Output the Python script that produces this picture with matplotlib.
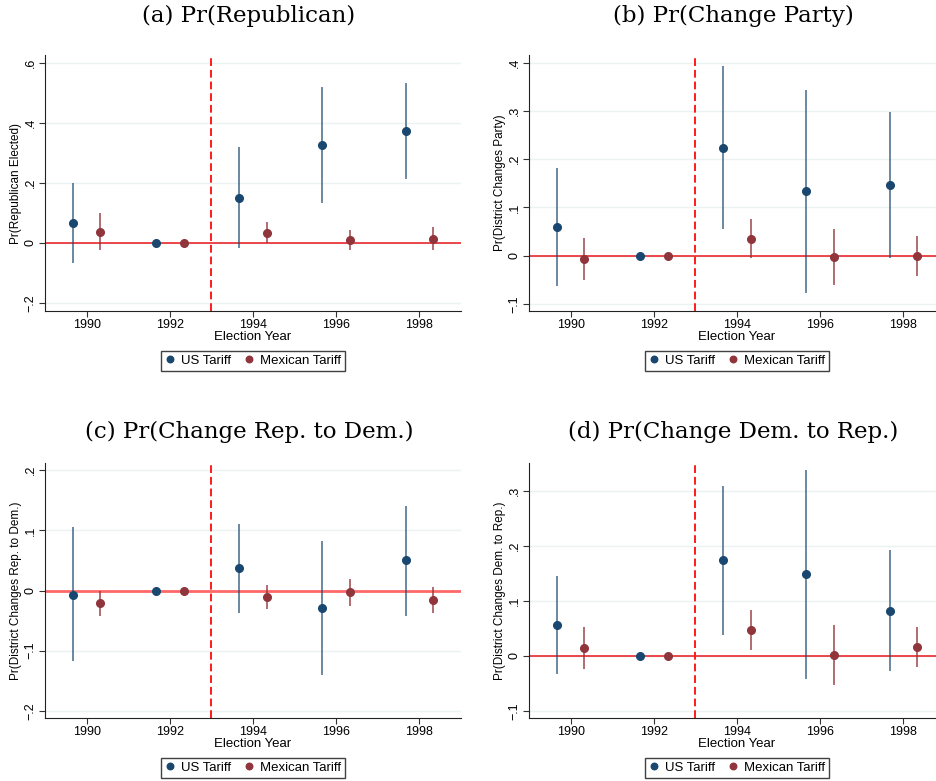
import matplotlib
matplotlib.use("Agg")
import matplotlib.pyplot as plt
import numpy as np
from matplotlib.ticker import FuncFormatter

plt.rcParams["font.family"] = ["Liberation Sans", "DejaVu Sans"]

years = np.array([1990, 1992, 1994, 1996, 1998])

# (a) Pr(Republican Elected)
a_us = [0.065, 0.0, 0.151, 0.325, 0.374]
a_us_lo = [-0.068, 0.0, -0.018, 0.132, 0.214]
a_us_hi = [0.198, 0.0, 0.318, 0.519, 0.533]
a_mx = [0.037, 0.0, 0.033, 0.010, 0.013]
a_mx_lo = [-0.025, 0.0, -0.001, -0.025, -0.025]
a_mx_hi = [0.100, 0.0, 0.068, 0.044, 0.053]

# (b) Pr(District Changes Party)
b_us = [0.059, 0.0, 0.224, 0.134, 0.146]
b_us_lo = [-0.063, 0.0, 0.056, -0.077, -0.006]
b_us_hi = [0.181, 0.0, 0.393, 0.343, 0.298]
b_mx = [-0.007, 0.0, 0.035, -0.003, -0.001]
b_mx_lo = [-0.050, 0.0, -0.005, -0.061, -0.043]
b_mx_hi = [0.036, 0.0, 0.075, 0.055, 0.040]

# (c) Pr(District Changes Rep. to Dem.)
c_us = [-0.007, 0.0, 0.037, -0.029, 0.050]
c_us_lo = [-0.118, 0.0, -0.038, -0.140, -0.042]
c_us_hi = [0.105, 0.0, 0.111, 0.083, 0.141]
c_mx = [-0.020, 0.0, -0.011, -0.003, -0.016]
c_mx_lo = [-0.042, 0.0, -0.030, -0.025, -0.038]
c_mx_hi = [0.000, 0.0, 0.009, 0.019, 0.006]

# (d) Pr(District Changes Dem. to Rep.)
d_us = [0.056, 0.0, 0.173, 0.148, 0.082]
d_us_lo = [-0.034, 0.0, 0.038, -0.042, -0.028]
d_us_hi = [0.145, 0.0, 0.309, 0.338, 0.192]
d_mx = [0.015, 0.0, 0.047, 0.002, 0.016]
d_mx_lo = [-0.024, 0.0, 0.011, -0.053, -0.021]
d_mx_hi = [0.053, 0.0, 0.083, 0.056, 0.053]

NAVY = "#1a476f"
MAROON = "#90353b"
W, H = 937, 781


def stata_fmt(v, pos):
    if abs(v) < 1e-9:
        return "0"
    s = f"{v:g}"
    return s.replace("0.", ".").replace("-", "\u2212")


def panel(rect, title, title_y, ylabel, ylim, yticks, us, us_lo, us_hi, mx, mx_lo, mx_hi,
          zero_kw):
    l, t, r, b = rect
    ax = plt.gcf().add_axes([l / W, 1 - b / H, (r - l) / W, (b - t) / H])

    for y in yticks:
        ax.axhline(y, color="#eaf2f3", lw=1.0, zorder=0)
    ax.axhline(0, zorder=1, **zero_kw)
    ax.axvline(1993, color="#ff1a1a", lw=1.4, ls=(0, (4, 2)), zorder=1)

    x_us = years - 0.33
    x_mx = years + 0.33
    ax.vlines(x_us, us_lo, us_hi, color=NAVY, lw=1.2, alpha=0.75, zorder=2)
    ax.vlines(x_mx, mx_lo, mx_hi, color=MAROON, lw=1.2, alpha=0.85, zorder=2)
    ax.plot(x_us, us, "o", color=NAVY, ms=5.5, zorder=3, label="US Tariff")
    ax.plot(x_mx, mx, "o", color=MAROON, ms=5.5, zorder=3, label="Mexican Tariff")

    ax.set_xlim(1989, 1999)
    ax.set_ylim(*ylim)
    ax.set_xticks(years)
    ax.set_yticks(yticks)
    ax.yaxis.set_major_formatter(FuncFormatter(stata_fmt))
    for lab in ax.get_yticklabels():
        lab.set_rotation(90)
        lab.set_va("center")
    ax.tick_params(labelsize=9, length=4, width=0.8, color="#333333", pad=2)
    ax.spines["top"].set_visible(False)
    ax.spines["right"].set_visible(False)
    ax.spines["left"].set_color("#222222")
    ax.spines["bottom"].set_color("#222222")
    ax.set_xlabel("Election Year", fontsize=9.5, labelpad=0)
    ax.set_ylabel(ylabel, fontsize=8.5, labelpad=2)

    leg = ax.legend(loc="center", bbox_to_anchor=(0.5, -0.195), ncol=2, fontsize=9.5,
                    frameon=True, fancybox=False, handlelength=0.8, handletextpad=0.4,
                    columnspacing=1.0, borderpad=0.3, borderaxespad=0.0, markerscale=0.85)
    leg.get_frame().set_edgecolor("#111111")
    leg.get_frame().set_linewidth(1.0)

    plt.gcf().text(((l + min(r, W + 8)) / 2 - 4) / W, 1 - title_y / H, title,
                   family=["DejaVu Serif"], fontsize=16.5,
                   ha="center", va="center")
    return ax


fig = plt.figure(figsize=(W / 100, H / 100), dpi=100)

thin_zero = dict(color="#e8161c", lw=1.1)
thick_zero = dict(color="#ff6868", lw=2.0)

panel((45, 55, 461, 311), "(a) Pr(Republican)", 16, "Pr(Republican Elected)",
      (-0.227, 0.626), [-0.2, 0, 0.2, 0.4, 0.6],
      a_us, a_us_lo, a_us_hi, a_mx, a_mx_lo, a_mx_hi, thin_zero)
panel((529, 55, 945, 311), "(b) Pr(Change Party)", 16, "Pr(District Changes Party)",
      (-0.115, 0.416), [-0.1, 0, 0.1, 0.2, 0.3, 0.4],
      b_us, b_us_lo, b_us_hi, b_mx, b_mx_lo, b_mx_hi, thin_zero)
panel((45, 463, 461, 718), "(c) Pr(Change Rep. to Dem.)", 432,
      "Pr(District Changes Rep. to Dem.)",
      (-0.212, 0.212), [-0.2, -0.1, 0, 0.1, 0.2],
      c_us, c_us_lo, c_us_hi, c_mx, c_mx_lo, c_mx_hi, thick_zero)
panel((529, 463, 945, 718), "(d) Pr(Change Dem. to Rep.)", 432,
      "Pr(District Changes Dem. to Rep.)",
      (-0.113, 0.350), [-0.1, 0, 0.1, 0.2, 0.3],
      d_us, d_us_lo, d_us_hi, d_mx, d_mx_lo, d_mx_hi, thin_zero)

fig.savefig("out.png", dpi=100)
